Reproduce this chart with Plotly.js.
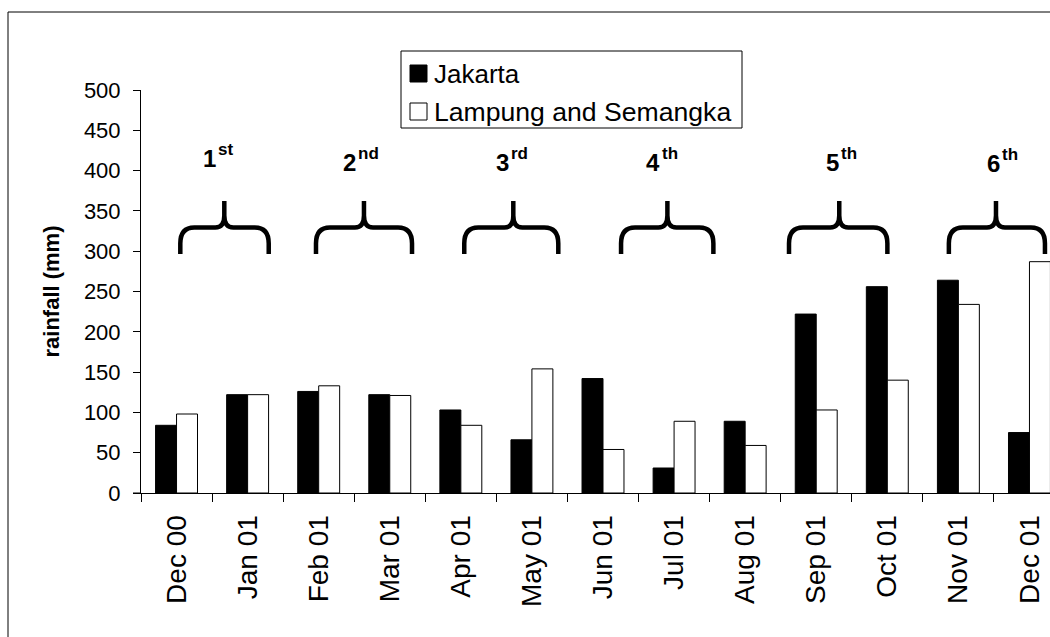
<!DOCTYPE html>
<html>
<head>
<meta charset="utf-8">
<script src="https://cdn.plot.ly/plotly-3.0.1.min.js"></script>
<style>
  html, body { margin: 0; padding: 0; background: #fff; overflow: hidden; }
  #chart { width: 1075px; height: 637px; }
</style>
</head>
<body>
<div id="chart"></div>
<script>
// ---- data ----
const months = ['Dec 00','Jan 01','Feb 01','Mar 01','Apr 01','May 01','Jun 01','Jul 01','Aug 01','Sep 01','Oct 01','Nov 01','Dec 01'];
const jakarta = [84, 122, 126, 122, 103, 66, 142, 31, 89, 222, 256, 264, 75];
const lampung = [98, 122, 133, 121, 84, 154, 54, 89, 59, 103, 140, 234, 287];
const seriesNames = ['Jakarta', 'Lampung and Semangka'];
const ordinalNumbers = ['1', '2', '3', '4', '5', '6'];
const ordinalSuffixes = ['st', 'nd', 'rd', 'th', 'th', 'th'];

// ---- layout geometry (pixels) ----
const FONT = 'Liberation Sans, Arial, Helvetica, sans-serif';
const ML = 141, MT = 90, PW = 924, PH = 403, FULLW = 1075, FULLH = 637;
const px = x => (x - ML) / PW;              // pixel x -> paper
const py = y => (MT + PH - y) / PH;         // pixel y -> paper

// brace spans: [left, right, tip] in category-index units
const braceSpans = [
  [0.053, 1.297, 0.672],
  [1.962, 3.313, 2.637],
  [4.048, 5.371, 4.738],
  [6.254, 7.553, 6.906],
  [8.617, 10.001, 9.324],
  [10.866, 12.218, 11.529]
];
// ordinal label placement: x of the number/suffix junction and baseline (px)
const labelJunctions = [216.5, 357, 509.5, 661, 840, 1001];
const labelBaselines = [169, 173, 173, 173, 173, 174];

const nCat = months.length;
const cx = c => (c + 0.5) / nCat;            // category index -> paper
const yBottom = py(254), yMid = py(227.5), yTip = py(201);
const rx = 14 / PW, ry = 16 / PH;            // end curve radii
const tx = 9 / PW, ty = 12 / PH;             // tip curve radii

const shapes = [];
// outer frame (cropped at right and bottom)
shapes.push({type: 'rect', xref: 'paper', yref: 'paper',
  x0: px(8), x1: px(1300), y0: py(900), y1: py(12),
  line: {color: '#000', width: 1}, fillcolor: 'rgba(0,0,0,0)'});
// small stub of the category axis line left of the value axis
shapes.push({type: 'line', xref: 'paper', yref: 'paper',
  x0: px(133), x1: 0, y0: 0, y1: 0, line: {color: '#000', width: 1}});

braceSpans.forEach(s => {
  const x0 = cx(s[0]), x1 = cx(s[1]), t = cx(s[2]);
  const path =
    `M ${x0},${yBottom} L ${x0},${yMid - ry} Q ${x0},${yMid} ${x0 + rx},${yMid} ` +
    `L ${t - tx},${yMid} Q ${t},${yMid} ${t},${yMid + ty} L ${t},${yTip} ` +
    `L ${t},${yMid + ty} Q ${t},${yMid} ${t + tx},${yMid} ` +
    `L ${x1 - rx},${yMid} Q ${x1},${yMid} ${x1},${yMid - ry} L ${x1},${yBottom}`;
  shapes.push({type: 'path', xref: 'paper', yref: 'paper', path: path,
    line: {color: '#000', width: 4.5}});
});

// custom legend
shapes.push({type: 'rect', xref: 'paper', yref: 'paper',
  x0: px(401), x1: px(742), y0: py(128), y1: py(51),
  line: {color: '#000', width: 1}, fillcolor: '#fff'});
shapes.push({type: 'rect', xref: 'paper', yref: 'paper',
  x0: px(410), x1: px(427), y0: py(82), y1: py(65),
  line: {color: '#000', width: 1}, fillcolor: '#000'});
shapes.push({type: 'rect', xref: 'paper', yref: 'paper',
  x0: px(410), x1: px(427), y0: py(120), y1: py(103),
  line: {color: '#000', width: 1}, fillcolor: '#fff'});

const annotations = [];
annotations.push({xref: 'paper', yref: 'paper', x: px(432), y: py(74),
  xanchor: 'left', yanchor: 'middle', showarrow: false,
  text: seriesNames[0], font: {family: FONT, size: 26, color: '#000'}});
annotations.push({xref: 'paper', yref: 'paper', x: px(432), y: py(112),
  xanchor: 'left', yanchor: 'middle', showarrow: false,
  text: seriesNames[1], font: {family: FONT, size: 26.6, color: '#000'}});

ordinalNumbers.forEach((n, i) => {
  annotations.push({xref: 'paper', yref: 'paper',
    x: px(labelJunctions[i] + 1), y: py(labelBaselines[i] + 5),
    xanchor: 'right', yanchor: 'bottom', showarrow: false, text: n,
    font: {family: FONT, size: 24, color: '#000', weight: 'bold'}});
  annotations.push({xref: 'paper', yref: 'paper',
    x: px(labelJunctions[i] - 1), y: py(labelBaselines[i] - 12 + 3.6),
    xanchor: 'left', yanchor: 'bottom', showarrow: false, text: ordinalSuffixes[i],
    font: {family: FONT, size: 17, color: '#000', weight: 'bold'}});
});

const traces = [
  {type: 'bar', name: seriesNames[0], x: months, y: jakarta,
   marker: {color: '#000', line: {color: '#000', width: 1}}},
  {type: 'bar', name: seriesNames[1], x: months, y: lampung,
   marker: {color: '#fff', line: {color: '#000', width: 1}}}
];

const layout = {
  width: FULLW, height: FULLH,
  margin: {l: ML, r: FULLW - ML - PW, t: MT, b: FULLH - MT - PH, pad: 0},
  paper_bgcolor: '#fff', plot_bgcolor: '#fff',
  showlegend: false,
  barmode: 'group', bargap: 0.41, bargroupgap: 0,
  font: {family: FONT, color: '#000'},
  xaxis: {
    type: 'category', range: [-0.5, nCat - 0.5],
    showline: true, linecolor: '#000', linewidth: 1,
    ticks: 'outside', tickson: 'boundaries', ticklen: 8, tickcolor: '#000', tickwidth: 1,
    tickangle: -90, tickfont: {family: FONT, size: 28, color: '#000'},
    ticklabelstandoff: 10,
    showgrid: false, zeroline: false, automargin: false
  },
  yaxis: {
    range: [0, 500], dtick: 50, tick0: 0,
    showline: true, linecolor: '#000', linewidth: 1,
    ticks: 'outside', ticklen: 7, tickcolor: '#000', tickwidth: 1,
    tickfont: {family: FONT, size: 22, color: '#000'},
    ticklabelstandoff: 8,
    showgrid: false, zeroline: false, automargin: false,
    title: {text: 'rainfall (mm)', font: {family: FONT, size: 22, color: '#000', weight: 'bold'}, standoff: 18}
  },
  shapes: shapes,
  annotations: annotations
};

Plotly.newPlot('chart', traces, layout, {displayModeBar: false, staticPlot: true});
</script>
</body>
</html>
